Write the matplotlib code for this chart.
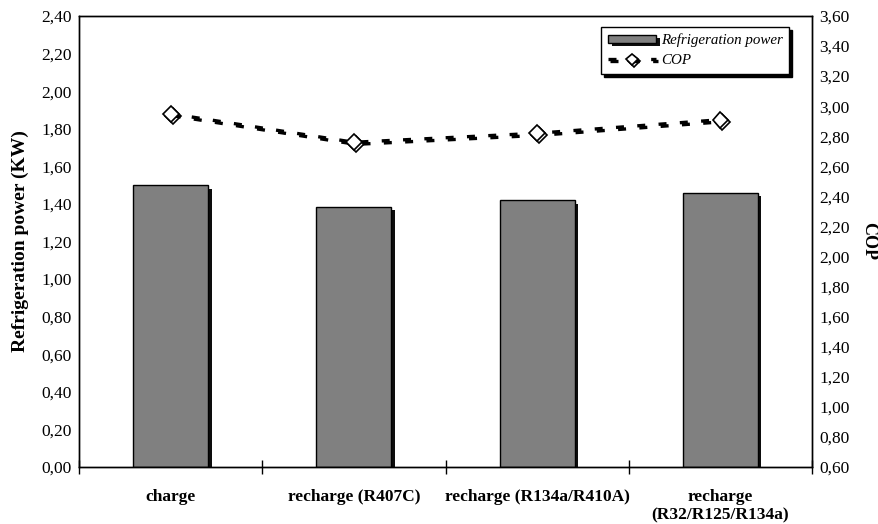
import matplotlib
matplotlib.use("Agg")
import matplotlib.pyplot as plt
import matplotlib.patheffects as pe
from matplotlib.ticker import FuncFormatter, MultipleLocator

# Data
categories = ["charge", "recharge (R407C)", "recharge (R134a/R410A)", "recharge\n(R32/R125/R134a)"]
refrigeration_power = [1.50, 1.385, 1.42, 1.46]
cop = [2.95, 2.76, 2.82, 2.91]

plt.rcParams["font.family"] = ["Liberation Serif", "DejaVu Serif"]
plt.rcParams["font.size"] = 12


def comma(v, pos):
    return f"{v:.2f}".replace(".", ",")


fig = plt.figure(figsize=(8.79, 5.24), dpi=100)
ax = fig.add_axes([0.0899, 0.1088, 0.8339, 0.8607])
ax2 = ax.twinx()

x = list(range(len(categories)))
shadow = [pe.SimplePatchShadow(offset=(2.5, -2.5), shadow_rgbFace="black", alpha=0.95), pe.Normal()]
bars = ax.bar(x, refrigeration_power, width=0.41, color="#808080", edgecolor="black",
              linewidth=1.0, label="Refrigeration power", zorder=2)
for b in bars:
    b.set_path_effects(shadow)

line, = ax2.plot(x, cop, color="black", linewidth=2.4, linestyle=(0, (2.4, 4.0)),
                 marker="D", markersize=8, markerfacecolor="white", markeredgecolor="black",
                 markeredgewidth=1.2, label="COP", zorder=3,
                 path_effects=[pe.SimpleLineShadow(offset=(1.5, -1.5), shadow_color="black", alpha=1.0),
                               pe.Normal()])

# Axes limits and ticks
ax.set_xlim(-0.5, len(categories) - 0.5)
ax.set_ylim(0, 2.4)
ax2.set_ylim(0.6, 3.6)
ax.yaxis.set_major_locator(MultipleLocator(0.2))
ax2.yaxis.set_major_locator(MultipleLocator(0.2))
ax.yaxis.set_major_formatter(FuncFormatter(comma))
ax2.yaxis.set_major_formatter(FuncFormatter(comma))
ax.tick_params(axis="y", length=0, pad=5, labelsize=12.5)
ax2.tick_params(axis="y", length=0, pad=5, labelsize=12.5)

ax.set_xticks(x)
ax.set_xticklabels(categories, fontweight="bold", fontsize=12.5)
ax.set_xticks([i - 0.5 for i in range(len(categories) + 1)], minor=True)
ax.tick_params(axis="x", which="major", length=0, pad=16)
ax.tick_params(axis="x", which="minor", length=10, direction="inout", width=1)

for a in (ax, ax2):
    for s in a.spines.values():
        s.set_linewidth(1.0)

ax.set_ylabel("Refrigeration power (KW)", fontweight="bold", fontsize=14, labelpad=9)
ax2.set_ylabel("COP", fontweight="bold", fontsize=13, rotation=270, labelpad=20)

# Legend
leg = ax2.legend([bars, line], ["Refrigeration power", "COP"], loc="upper right",
                 bbox_to_anchor=(0.969, 0.976), borderaxespad=0, fancybox=False,
                 shadow={"color": "black", "alpha": 1.0}, framealpha=1, edgecolor="black",
                 prop={"style": "italic", "size": 10.8}, handlelength=3.2, handleheight=0.45,
                 handletextpad=0.3, markerscale=0.75,
                 borderpad=0.45, labelspacing=0.45)
leg.get_frame().set_linewidth(1.0)

fig.savefig("out.png", dpi=100)
